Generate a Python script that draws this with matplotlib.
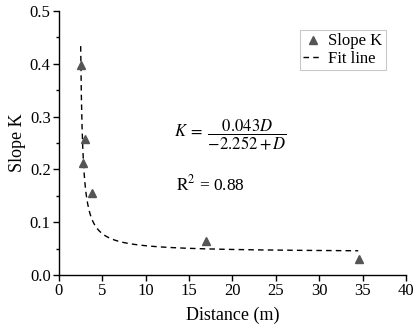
import numpy as np
import matplotlib
matplotlib.use("Agg")
import matplotlib.pyplot as plt
from matplotlib.ticker import MultipleLocator

plt.rcParams['font.family'] = ['Liberation Serif', 'DejaVu Serif']
plt.rcParams['mathtext.fontset'] = 'stix'

# measured points
distance = [2.5, 3.0, 2.8, 3.85, 17.0, 34.6]
slope_k = [0.398, 0.257, 0.212, 0.155, 0.064, 0.030]

# fit K = a*D / (b + D), coefficients as printed on the chart
fit_a = 0.043
fit_b = -2.252
fit_start, fit_end = 2.5, 34.5

fig = plt.figure(figsize=(4.14, 3.33), dpi=100)
ax = fig.add_axes([0.1425, 0.174, 0.838, 0.793])

d = np.linspace(fit_start, fit_end, 400)
k_fit = fit_a * d / (fit_b + d)

ax.plot(distance, slope_k, linestyle='none', marker='^', markersize=5.5,
        color='#555555', label='Slope K', zorder=3)
ax.plot(d, k_fit, color='black', linestyle=(0, (4, 3)), linewidth=1.0,
        label='Fit line')

ax.set_xlim(0, 40)
ax.set_ylim(0, 0.5)
ax.xaxis.set_major_locator(MultipleLocator(5))
ax.yaxis.set_major_locator(MultipleLocator(0.1))
ax.yaxis.set_minor_locator(MultipleLocator(0.05))
ax.yaxis.set_major_formatter(plt.FuncFormatter(lambda v, p: f'{v:.1f}'))

for s in ['top', 'right']:
    ax.spines[s].set_visible(False)
ax.spines['left'].set_linewidth(1.0)
ax.spines['bottom'].set_linewidth(1.0)
ax.tick_params(which='major', direction='out', length=4, width=1.0,
               labelsize=12, pad=2)
ax.tick_params(which='minor', direction='out', length=2.5, width=1.0)

ax.set_xlabel('Distance (m)', fontsize=13, labelpad=5)
ax.set_ylabel('Slope K', fontsize=13, labelpad=3)

leg = ax.legend(loc='upper left', bbox_to_anchor=(0.695, 0.928), fontsize=12,
                frameon=True, fancybox=False, handlelength=1.1,
                handletextpad=0.4, borderpad=0.2, labelspacing=0.1,
                borderaxespad=0)
leg.get_frame().set_edgecolor('#bbbbbb')
leg.get_frame().set_linewidth(0.8)

ax.text(0.331, 0.53, r'$K\;=\;\dfrac{0.043D}{-2.252+D}$', transform=ax.transAxes,
        fontsize=12, va='center', ha='left')
ax.text(0.336, 0.345, r'$\mathrm{R}^2$ = 0.88', transform=ax.transAxes,
        fontsize=12.5, va='center', ha='left')

fig.savefig('out.png', dpi=100)
